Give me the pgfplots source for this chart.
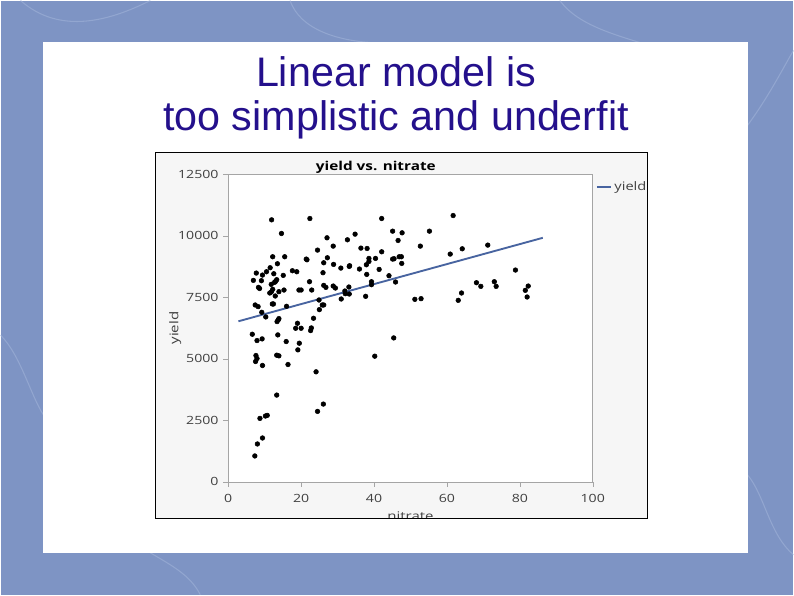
\documentclass[border=0pt]{standalone}
\usepackage{fontspec}
\setmainfont{Liberation Sans}
\newfontfamily\chartfont[FakeStretch=1.25]{Open Sans}
\usepackage{pgfplots}
\pgfplotsset{compat=1.18}
\definecolor{slidebg}{RGB}{126,148,196}
\definecolor{slidestreak}{RGB}{160,178,216}
\definecolor{titleblue}{RGB}{36,16,140}
\definecolor{fitblue}{RGB}{72,100,160}
\definecolor{chartbg}{RGB}{246,246,246}
\definecolor{framegray}{RGB}{165,165,165}
\definecolor{labelgray}{RGB}{64,64,64}

% yield vs. nitrate
\pgfplotstableread{
x y
6.6 6000
6.9 8189
7.7 8486
7.4 7189
8.2 7122
8.3 7905
8.6 7860
7.9 5743
7.6 5135
7.9 5013
7.5 4892
9.4 4730
9.3 5811
9.2 6892
9.1 8176
9.4 8405
10.5 8540
10.3 6703
8.7 2581
10.2 2676
10.7 2703
9.4 1784
8.0 1541
7.3 1054
11.5 8703
11.9 10649
12.2 9149
12.5 8459
12.7 8108
13.0 8150
13.3 8216
11.8 8027
11.8 7716
11.4 7676
12.2 7824
12.1 7230
12.4 7230
12.9 7554
13.5 8865
13.9 7730
14.6 10095
15.1 8392
15.3 7797
15.5 9149
13.4 6514
13.7 6580
13.9 6635
13.6 5973
13.3 5149
13.9 5122
13.3 3527
15.9 5703
16.0 7135
16.4 4770
17.6 8581
18.8 8540
18.5 6243
19.0 6446
20.0 6243
19.4 7797
20.0 7797
19.5 5635
19.1 5365
21.4 9054
21.6 9027
22.3 8135
22.4 10703
22.6 6149
22.8 6257
22.9 7797
23.4 6649
24.1 4473
24.5 9419
24.5 2865
24.9 7392
25.0 7000
26.0 8500
26.1 3162
26.2 8905
26.2 7986
25.8 7189
26.2 7189
26.8 7905
27.1 9919
27.2 9108
28.8 9581
28.9 8838
28.8 7959
29.4 7878
30.9 8689
31.0 7432
32.0 7757
32.1 7649
32.7 9838
33.1 7919
33.2 8757
33.3 8784
33.2 7635
34.8 10068
36.0 8649
36.4 9500
37.7 7541
37.9 8824
38.0 8432
38.1 9486
38.6 9081
38.6 8959
39.3 8135
39.3 8014
40.2 5108
40.4 9081
41.4 8635
42.1 9351
42.1 10703
44.1 8378
45.1 9054
45.5 9068
45.1 10189
45.4 5851
45.9 8122
46.6 9811
46.9 9149
47.5 9149
47.6 8878
47.7 10122
51.2 7419
52.7 9581
52.9 7446
55.2 10189
60.9 9257
61.7 10824
63.1 7378
64.0 7676
64.2 9473
68.1 8095
69.3 7946
71.2 9622
73.0 8135
73.5 7946
78.8 8608
81.5 7784
82.3 7959
82.0 7514
}\yielddata

\begin{document}
\begin{tikzpicture}[x=0.75pt,y=0.75pt]
\fill[slidebg] (0,0) rectangle (794,595);
% faint streaks of the slide background
\draw[slidestreak, line width=0.8pt, opacity=0.6] (20,595) .. controls (60,560) and (110,575) .. (150,595);
\draw[slidestreak, line width=0.8pt, opacity=0.6] (290,595) .. controls (300,565) and (340,555) .. (370,553);
\draw[slidestreak, line width=0.8pt, opacity=0.6] (560,595) .. controls (575,575) and (600,565) .. (640,553);
\draw[slidestreak, line width=0.8pt, opacity=0.6] (748,470) .. controls (770,500) and (785,530) .. (794,545);
\draw[slidestreak, line width=0.8pt, opacity=0.6] (0,260) .. controls (20,240) and (30,200) .. (43,180);
\draw[slidestreak, line width=0.8pt, opacity=0.6] (748,120) .. controls (765,100) and (770,60) .. (794,40);
\draw[slidestreak, line width=0.8pt, opacity=0.6] (200,0) .. controls (190,20) and (170,30) .. (150,42);
\fill[white] (43,42) rectangle (748,553);
\node[titleblue, font=\fontsize{31}{33}\selectfont, anchor=base, inner sep=0pt] at (396,509) {Linear model is};
\node[titleblue, font=\fontsize{31}{33}\selectfont, anchor=base, inner sep=0pt] at (396,465) {too simplistic and underfit};
\fill[chartbg] (155.5,76.5) rectangle (647.5,442.5);
\coordinate (plotorigin) at (228,113);
\begin{scope}
\clip (155.5,76.5) rectangle (647.5,442.5);
\begin{axis}[
  at={(plotorigin)}, anchor=south west,
  scale only axis, width=273.75pt, height=231pt,
  xmin=0, xmax=100, ymin=0, ymax=12500,
  xtick={0,20,...,100}, ytick={0,2500,...,12500},
  scaled ticks=false,
  /pgf/number format/assume math mode=true,
  /pgf/number format/set thousands separator={},
  axis background/.style={fill=white},
  axis line style={framegray},
  tick align=outside, major tick length=3.75pt,
  tick style={framegray},
  xtick pos=bottom, ytick pos=left,
  tick label style={font=\chartfont\fontsize{8.5}{10}\selectfont, text=labelgray},
  xticklabel style={yshift=-2pt},
  label style={font=\chartfont\fontsize{9}{10}\selectfont, text=labelgray},
  xlabel={nitrate}, ylabel={yield},
  xlabel style={at={(axis description cs:0.5,0)}, anchor=base, yshift=-29pt},
  ylabel style={at={(axis description cs:0,0.5)}, anchor=base, yshift=37.5pt},
  title={yield vs. nitrate},
  title style={font=\chartfont\bfseries\fontsize{9.2}{11}\selectfont, at={(axis description cs:0.405,1)}, anchor=base, yshift=-3.5pt},
  legend style={draw=none, fill=none, at={(axis description cs:1.008,0.985)}, anchor=north west,
    font=\chartfont\fontsize{8.8}{10}\selectfont, text=labelgray, inner sep=0pt},
  legend image code/.code={\draw[#1] (0pt,0pt) -- (10.5pt,0pt);},
  clip=false,
]
\addplot[only marks, mark=*, mark size=1.75pt, black, forget plot] table[x=x,y=y] {\yielddata};
\addplot[fitblue, line width=1.4pt] coordinates {(2.8,6527) (86.3,9919)};
\addlegendentry{yield}
\end{axis}
\end{scope}
\draw[black, line width=0.75pt] (155.5,76.5) rectangle (647.5,442.5);
\end{tikzpicture}
\end{document}
